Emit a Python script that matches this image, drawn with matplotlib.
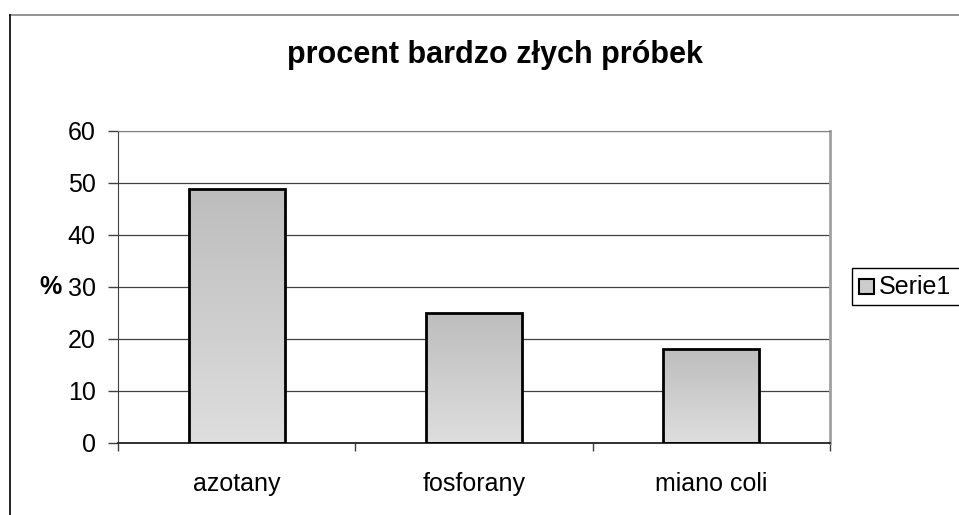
import numpy as np
import matplotlib.pyplot as plt
from matplotlib.patches import Rectangle

plt.rcParams['font.family'] = ['Liberation Sans', 'DejaVu Sans']

categories = ['azotany', 'fosforany', 'miano coli']
values = [48.8, 25.0, 18.1]
series_name = 'Serie1'
title = 'procent bardzo złych próbek'

W, H = 959, 515
fig = plt.figure(figsize=(W / 100, H / 100), dpi=100)

# outer chart frame (right and bottom sides run off the picture)
fig.add_artist(plt.Line2D([10 / W, 1.2], [1 - 15 / H, 1 - 15 / H], color='#808080', lw=1.2))
fig.add_artist(plt.Line2D([10 / W, 10 / W], [1 - 15 / H, -0.2], color='black', lw=1.2))

# plot area
x0, x1, y0, y1 = 118, 830, 130.5, 443
ax = fig.add_axes([x0 / W, 1 - y1 / H, (x1 - x0) / W, (y1 - y0) / H])
ax.set_xlim(0, 3)
ax.set_ylim(0, 60)
ax.set_yticks(range(0, 61, 10))
ax.set_xticks([0, 1, 2, 3])
ax.set_xticklabels([])
ax.set_xticks([0.5, 1.5, 2.5], minor=True)
ax.set_xticklabels(categories, minor=True, fontsize=18)
ax.tick_params(axis='x', which='minor', length=0, pad=21)
ax.tick_params(axis='x', which='major', length=6, width=1, color='#404040', direction='out')
ax.tick_params(axis='y', length=7, width=1, color='#404040', labelsize=18, pad=9)
for y in range(10, 61, 10):
    ax.axhline(y, color='#404040', lw=0.9, zorder=0)
ax.spines['left'].set_color('#404040')
ax.spines['bottom'].set_color('#202020')
ax.spines['bottom'].set_linewidth(1.3)
ax.spines['top'].set_color('#808080')
ax.spines['right'].set_color('#a0a0a0')
ax.spines['right'].set_linewidth(2)

grad = np.linspace(0, 1, 256).reshape(-1, 1)
cmap = plt.matplotlib.colors.LinearSegmentedColormap.from_list('g', ['#dedede', '#bdbdbd'])
bw = 0.405
for i, v in enumerate(values):
    xl = i + 0.5 - bw / 2
    im = ax.imshow(grad, cmap=cmap, extent=[xl, xl + bw, 0, v], origin='lower',
                   aspect='auto', zorder=2)
    r = Rectangle((xl, 0), bw, v, facecolor='none', edgecolor='black', lw=2, zorder=3)
    ax.add_patch(r)
    im.set_clip_path(r)
ax.set_xlim(0, 3)
ax.set_ylim(0, 60)

fig.text(495 / W, 1 - 63 / H, title, ha='center', va='baseline', fontsize=22, fontweight='bold')
fig.text(50 / W, 1 - 287 / H, '%', ha='center', va='center', fontsize=18, fontweight='bold')

# legend box
lx0, ly0, ly1 = 852, 268, 305
fig.add_artist(Rectangle((lx0 / W, 1 - ly1 / H), 0.2, (ly1 - ly0) / H, transform=fig.transFigure,
                         facecolor='white', edgecolor='black', lw=1))
fig.add_artist(Rectangle((859 / W, 1 - 294 / H), 15 / W, 15 / H, transform=fig.transFigure,
                         facecolor='#cccccc', edgecolor='black', lw=1.5))
fig.text(879 / W, 1 - 286.5 / H, series_name, ha='left', va='center', fontsize=18)

fig.savefig('out.png', dpi=100)
